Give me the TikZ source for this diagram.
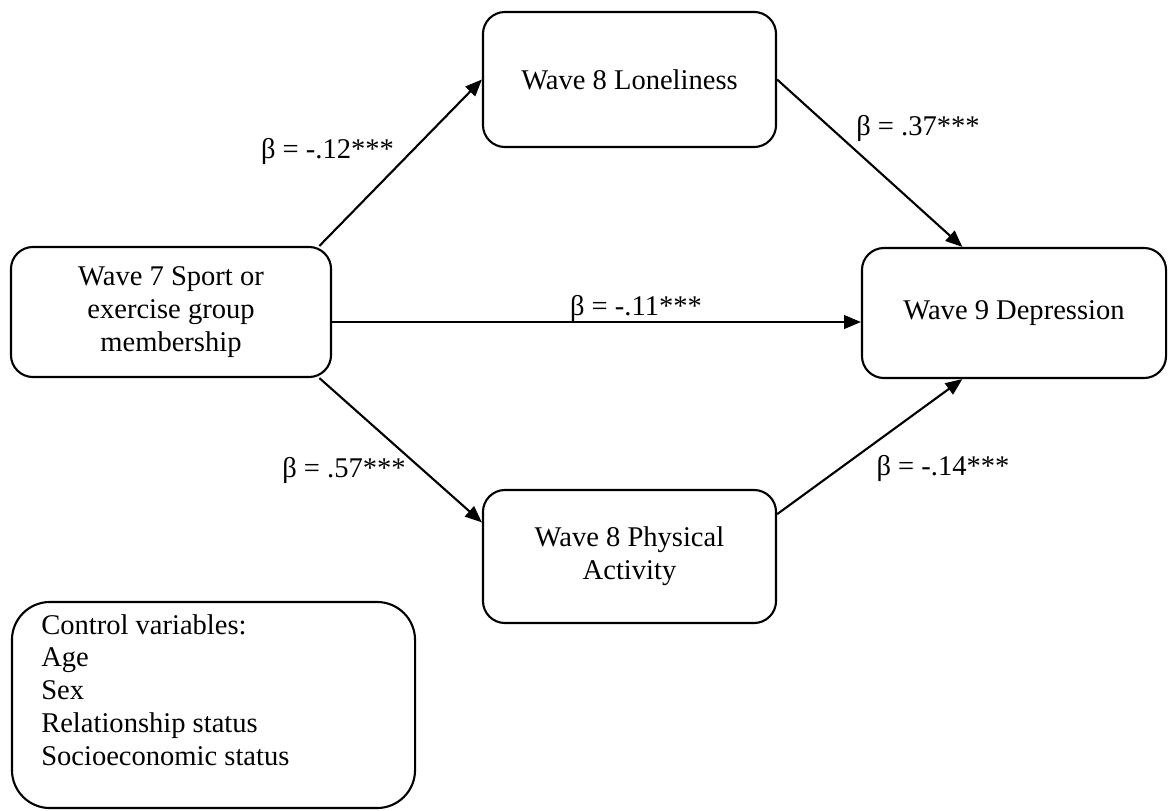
\documentclass[tikz,border=0pt]{standalone}
\usepackage{fontspec}
\setmainfont{Liberation Serif}
\usetikzlibrary{arrows.meta}
\begin{document}
\begin{tikzpicture}[x=0.025cm,y=-0.025cm,
        font=\fontsize{20.3}{23.3}\selectfont,
        box/.style={draw,line width=1.5pt,rounded corners=0.55cm,align=center,inner sep=0pt},
        arr/.style={line width=1.5pt,-{Triangle[length=0.42cm,width=0.34cm]}},
        lbl/.style={anchor=base,inner sep=0pt}]
            \useasboundingbox (0,0) rectangle (1168,810);
            \node[box,minimum width=8cm,minimum height=3.25cm] (src) at (171,312) {Wave 7 Sport or\\exercise group\\membership};
            \node[box,minimum width=7.325cm,minimum height=3.375cm] (lon) at (629.5,79.5) {Wave 8 Loneliness};
            \node[box,minimum width=7.325cm,minimum height=3.325cm] (phys) at (629.5,556.5) {Wave 8 Physical\\Activity};
            \node[box,minimum width=7.6cm,minimum height=3.25cm] (dep) at (1014,313) {Wave 9 Depression};
            \node[box,rounded corners=0.95cm,minimum width=10.075cm,minimum height=5.15cm] (ctrl) at (213.5,705) {};
            \node[anchor=north west,align=left,inner sep=0pt] (ctrltxt) at (41,614) {Control variables:\\Age\\Sex\\Relationship status\\Socioeconomic status};
            \draw[arr] (src.24.6) -- (lon.west);
            \draw[arr] (src.-24.6) -- (phys.167.2);
            \draw[arr] ([yshift=-0.25cm]src.east) -- ([yshift=-0.225cm]dep.west);
            \draw[arr] (lon.east) -- (dep.128.1);
            \draw[arr] (phys.16.5) -- (dep.-128.1);
            \node[lbl] (b12) at (327.5,158) {β = -.12***};
            \node[lbl] (b37) at (918,135) {β = .37***};
            \node[lbl] (b11) at (636,315) {β = -.11***};
            \node[lbl] (b57) at (344,477) {β = .57***};
            \node[lbl] (b14) at (943,475) {β = -.14***};
        \end{tikzpicture}
\end{document}
